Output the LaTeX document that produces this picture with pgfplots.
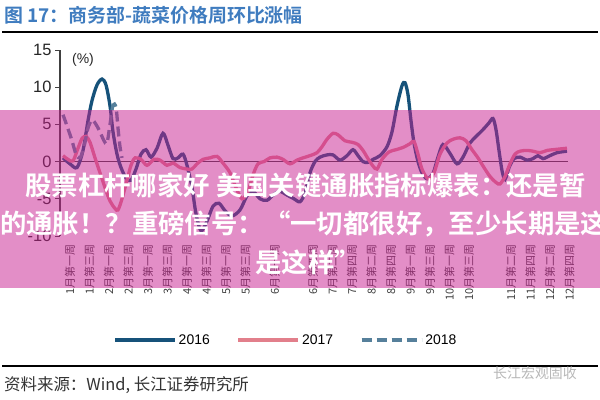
\documentclass[border=0pt]{standalone}
\usepackage{pgfplots}
\pgfplotsset{compat=1.18}
\usepackage{fontspec}
\setmainfont{Liberation Sans}
\newfontfamily\cjk{Noto Sans CJK SC}
\newfontfamily\cjkb{Noto Sans CJK SC Bold}
\definecolor{c16}{HTML}{16527A}
\definecolor{c17}{HTML}{E27F8B}
\definecolor{c18}{HTML}{56809B}
\definecolor{tblue}{HTML}{3F7CBF}
\definecolor{ovl}{HTML}{C91F91}
\definecolor{axgray}{HTML}{404040}
\begin{document}
\begin{tikzpicture}
\useasboundingbox (0bp,0bp) rectangle (600bp,400bp);
\fill[white] (0bp,0bp) rectangle (600bp,400bp);
\begin{axis}[
  at={(60bp,164bp)}, anchor=south west,
  scale only axis, width=510bp, height=186bp,
  xmin=60, xmax=570, ymin=-10, ymax=15,
  axis y line*=left, axis x line*=bottom,
  x axis line style={draw=none},
  y axis line style={axgray, line width=1.2bp},
  ytick={-10,-5,0,5,10,15},
  tick align=outside, major tick length=5bp,
  ytick style={axgray, line width=1bp},
  xtick style={draw=none},
  /pgf/number format/assume math mode=true,
  yticklabel style={font=\fontsize{16.5}{16.5}\selectfont, text=black!85},
  xtick={66,85.5,105,124.5,144,163.5,183,202.5,222,241.5,270.75,309,328.5,348,367.5,387,406.5,426,445.5,465,507,526.5,546,565.5},
  xticklabels={1月第一周,1月第三周,2月第一周,2月第三周,3月第一周,3月第三周,4月第一周,4月第三周,5月第一周,5月第三周,6月第一周,6月第四周,7月第二周,7月第四周,8月第二周,8月第四周,9月第一周,9月第三周,10月第一周,10月第三周,11月第二周,11月第四周,12月第二周,12月第四周},
  xticklabel style={rotate=90, anchor=east, yshift=-4bp, font=\cjk\fontsize{11}{11}\selectfont, text=black!75},
  legend columns=3,
  legend style={draw=none, fill=none, at={(axis description cs:0.443,-0.559)}, anchor=center,
    font=\fontsize{14}{16}\selectfont, /tikz/every even column/.append style={column sep=25bp}},
  legend image code/.code={\draw[#1] (0bp,0bp) -- (60bp,0bp);},
]
\addplot[axgray, line width=1.2bp, forget plot] coordinates {(60,0) (568,0)};
\addplot[c16, line width=3.3bp, smooth] coordinates {
(63,0.5) (70,-0.3) (77,-0.8) (83,1.5) (88,5.5) (92,8.2) (97,10.3) (102,11.1) (106,10.3) (110,7.5) (113,4) (117,1) (121,-0.8) (126,-2.2) (131,-2.5) (136,-1) (141,1) (146,1.6) (151,0.6) (157,1.8) (163,3.8) (168,2.2) (173,0.4) (178,0.5) (183,1) (187,-0.5) (192,-3.5) (196,-7) (201,-9.3) (207,-8) (213,-6) (219,-5.6) (225,-6.6) (232,-7.3) (240,-6.5) (247,-4.6) (253,-4) (260,-5) (267,-5.2) (274,-4.4) (280,-4) (287,-4.5) (294,-5) (300,-5.4) (305,-4.2) (310,-1.5) (315,0) (320,0.6) (327,0.9) (333,0.9) (340,0.2) (347,0.8) (353,1.6) (358,0.8) (363,0) (368,-0.1) (373,0.3) (380,0.8) (387,2) (392,4) (397,7.5) (402,10.2) (405,10.6) (408,9) (411,5.5) (414,2.5) (418,0) (422,-1.5) (427,-2.3) (433,-1.6) (438,0.6) (443,2.3) (450,1.1) (457,-0.3) (463,0.6) (470,2.5) (477,3.5) (483,4.3) (489,5.2) (493,5.8) (496,4.3) (499,1.5) (502,-1.2) (505,-2.4) (509,-0.8) (514,0.4) (520,0.6) (527,0.2) (533,0.4) (538,0.8) (543,0.4) (550,0.8) (557,1.2) (567,1.4)};
\addlegendentry{2016}
\addplot[c17, line width=3.3bp, smooth] coordinates {
(63,0.8) (68,0.3) (73,0.1) (78,1.8) (82,3.1) (86,3.4) (90,2.6) (95,0.5) (100,-1.5) (105,-3.5) (110,-5.3) (115,-6.3) (118,-6.5) (122,-5) (127,-2.5) (131,-0.5) (135,0.5) (141,0.3) (147,-0.5) (154,0.3) (160,0.2) (167,-0.5) (173,-0.2) (180,-0.8) (187,-1) (192,-1) (197,-0.3) (203,0.3) (210,0.5) (217,0.7) (223,-0.2) (230,-1.5) (236,-3.5) (242,-5) (248,-4) (253,-1.8) (258,-0.3) (264,0) (270,0.5) (277,0.6) (283,0.3) (290,-0.3) (297,0.2) (303,0.5) (310,0.8) (317,1.2) (322,2) (327,3) (333,3.8) (338,3.6) (345,2.8) (352,2.6) (358,2.3) (363,1.5) (368,0.4) (373,-0.6) (377,-1) (382,0.3) (389,1.3) (396,1.6) (403,1.9) (410,2.4) (414,2.7) (418,1) (422,-1) (428,-2.3) (434,-1.5) (440,1) (447,2.5) (453,3) (460,3.2) (466,2.8) (472,1.6) (478,0.5) (484,-0.8) (490,-2) (496,-2.8) (500,-3) (505,-2) (510,-0.3) (515,1) (520,1.4) (527,1.5) (533,1.4) (540,1.2) (547,1.5) (553,1.6) (560,1.7) (567,1.8)};
\addlegendentry{2017}
\addplot[c18, line width=3.3bp, smooth, dash pattern=on 10bp off 5bp] coordinates {
(63,6.3) (67,4.8) (72,2.8) (76,1) (80,0.5) (84,2) (88,4.5) (92,5.6) (96,5) (100,4) (104,2.8) (107,2.5) (110,5) (113,7.6) (116,7.3) (118,4.5) (120,2) (122,0.5)};
\addlegendentry{2018}
\end{axis}
\node[font=\fontsize{14}{14}\selectfont, text=black!85] at (83bp,340bp) {(\%)};
% title and rules
\node[anchor=west, text=tblue, font=\cjkb\fontsize{19}{19}\selectfont, inner sep=0pt] at (4bp,385bp) {图 17：商务部-蔬菜价格周环比涨幅};
\draw[black, line width=2bp] (2bp,368bp) -- (598bp,368bp);
\draw[black, line width=1.5bp] (2bp,34bp) -- (598bp,34bp);
\node[anchor=west, inner sep=0pt, font=\cjk\fontsize{16.5}{16.5}\selectfont, text=black!80] at (4bp,15bp) {资料来源：Wind, 长江证券研究所};
\node[text=black!28, font=\cjk\fontsize{14}{14}\selectfont] at (535bp,27bp) {长江宏观固收};
% overlay band
\fill[ovl, fill opacity=0.5] (0bp,112bp) rectangle (600bp,290bp);
\node[text=white, font=\cjkb\fontsize{26.5}{26.5}\selectfont, inner sep=0pt, anchor=west] at (25bp,215bp) {股票杠杆哪家好 美国关键通胀指标爆表：还是暂};
\node[text=white, font=\cjkb\fontsize{26.5}{26.5}\selectfont, inner sep=0pt, anchor=west] at (-26.5bp,176bp) {时的通胀！？重磅信号：“一切都很好，至少长期是这样”};
\node[text=white, font=\cjkb\fontsize{26.5}{26.5}\selectfont, inner sep=0pt, anchor=west] at (255bp,138bp) {是这样”};
\end{tikzpicture}
\end{document}
